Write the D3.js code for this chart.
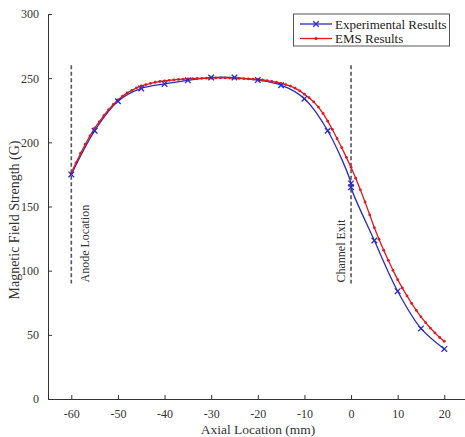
<!DOCTYPE html>
<html>
<head>
<meta charset="utf-8">
<script src="https://cdn.jsdelivr.net/npm/d3@7/dist/d3.min.js"></script>
<style>
  body { margin: 0; background: #fff; }
  svg { display: block; }
  svg text { font-family: "Liberation Serif", "Times New Roman", serif; }
</style>
</head>
<body>
<svg id="chart" width="465" height="437"></svg>
<script>
// experimental points (mm, G) - two readings at the exit
const expX = [-60, -55, -50, -45, -40, -35, -30, -25, -20, -15, -10, -5, 0, 0, 5, 10, 15, 20]
const expB = [175, 209, 232, 242, 245.5, 248.3, 250.5, 250.5, 248.5, 244.5, 234, 209, 168, 165, 123.5, 84, 55, 39]

// EMS simulation, 1 mm grid
const emsX = [-60, -59, -58, -57, -56, -55, -54, -53, -52, -51, -50, -49, -48, -47, -46, -45, -44, -43, -42, -41,
  -40, -39, -38, -37, -36, -35, -34, -33, -32, -31, -30, -29, -28, -27, -26, -25, -24, -23, -22, -21,
  -20, -19, -18, -17, -16, -15, -14, -13, -12, -11, -10, -9, -8, -7, -6, -5, -4, -3, -2, -1,
  0, 1, 2, 3, 4, 5, 6, 7, 8, 9, 10, 11, 12, 13, 14, 15, 16, 17, 18, 19, 20]
const emsB = [176, 184, 191.5, 198.5, 205, 211, 216, 221, 225.5, 229.5, 233, 236, 238.5, 240.5, 242.5, 244, 245, 246, 246.8, 247.4,
  247.9, 248.3, 248.7, 249, 249.2, 249.4, 249.6, 249.8, 249.9, 250, 250.1, 250.2, 250.2, 250.2, 250.1, 250, 249.8, 249.6, 249.4, 249.2,
  249, 248.6, 248.1, 247.5, 246.8, 246, 245, 243.8, 242.2, 240.1, 237.5, 234.8, 231.5, 227.5, 222.5, 216.5, 210, 203, 195.8, 188.3,
  180.5, 172, 163, 153.5, 143.5, 133.5, 124.5, 116, 108, 100.3, 93, 86.5, 80.3, 74.5, 69, 64, 59.5, 55.3, 51.5, 48, 45]

const xTicks = [-60, -50, -40, -30, -20, -10, 0, 10, 20]
const yTicks = [0, 50, 100, 150, 200, 250, 300]

// vertical markers: [x, label, side of the line the label sits on]
const markers = [[-60, 'Anode Location', 1], [0, 'Channel Exit', -1]]
const markerRange = [90, 260]

const seriesNames = ['Experimental Results', 'EMS Results']

const blue = '#2a2ac4'
const red = '#e3161c'

const svg = d3.select('#chart')

const x = d3.scaleLinear().domain([-65, 25]).range([48, 467.6])
const y = d3.scaleLinear().domain([0, 300]).range([399, 14])

const styleAxis = (g) => {
  g.attr('font-family', null).attr('font-size', null)
  g.select('.domain').attr('stroke', '#333')
  g.selectAll('.tick line').attr('stroke', '#333')
  g.selectAll('.tick text').attr('font-size', 12).attr('fill', '#333')
}

// axes, MATLAB style ticks pointing inward; plain hyphen for negatives
svg.append('g')
  .attr('transform', `translate(0, ${y(0)})`)
  .call(d3.axisBottom(x).tickValues(xTicks).tickFormat(String)
    .tickSizeInner(-4).tickSizeOuter(0).tickPadding(10))
  .call(styleAxis)

svg.append('g')
  .attr('transform', `translate(${x(-65)}, 0)`)
  .call(d3.axisLeft(y).tickValues(yTicks).tickFormat(String)
    .tickSizeInner(-4).tickSizeOuter(0).tickPadding(9))
  .call(styleAxis)

svg.append('text')
  .attr('x', 258)
  .attr('y', 434)
  .attr('text-anchor', 'middle')
  .attr('font-size', 13.5)
  .attr('fill', '#333')
  .text('Axial Location (mm)')

svg.append('text')
  .attr('transform', `translate(19, 220) rotate(-90)`)
  .attr('text-anchor', 'middle')
  .attr('font-size', 14)
  .attr('fill', '#333')
  .text('Magnetic Field Strength (G)')

// dashed reference lines + labels
markers.forEach(([mx, label, side]) => {
  svg.append('line')
    .attr('x1', x(mx)).attr('x2', x(mx))
    .attr('y1', y(markerRange[1])).attr('y2', y(markerRange[0]))
    .attr('stroke', '#555')
    .attr('stroke-width', 1.6)
    .attr('stroke-dasharray', '4,2.5')
  const tx = side > 0 ? x(mx) + 18 : x(mx) - 6
  svg.append('text')
    .attr('transform', `translate(${tx}, ${y(markerRange[0]) - 1}) rotate(-90)`)
    .attr('text-anchor', 'start')
    .attr('font-size', 12)
    .attr('fill', '#333')
    .text(label)
})

const expData = expX.map((d, i) => [d, expB[i]])
const emsData = emsX.map((d, i) => [d, emsB[i]])

const line = d3.line()
  .x(d => x(d[0]))
  .y(d => y(d[1]))

svg.append('path')
  .datum(expData)
  .attr('fill', 'none')
  .attr('stroke', blue)
  .attr('stroke-width', 1.3)
  .attr('d', line.curve(d3.curveCatmullRom.alpha(0.5)))

svg.append('path')
  .datum(emsData)
  .attr('fill', 'none')
  .attr('stroke', red)
  .attr('stroke-width', 1.3)
  .attr('d', line.curve(d3.curveLinear))

svg.append('g').selectAll('circle')
  .data(emsData)
  .enter()
  .append('circle')
  .attr('cx', d => x(d[0]))
  .attr('cy', d => y(d[1]))
  .attr('r', 1.4)
  .attr('fill', red)

const cross = (g, cx, cy, s) => {
  g.append('path')
    .attr('d', `M${cx - s},${cy - s}L${cx + s},${cy + s}M${cx - s},${cy + s}L${cx + s},${cy - s}`)
    .attr('stroke', blue)
    .attr('stroke-width', 1.3)
    .attr('fill', 'none')
}

const expMarks = svg.append('g')
expData.forEach(d => cross(expMarks, x(d[0]), y(d[1]), 2.8))

// legend
const legend = svg.append('g')
legend.append('rect')
  .attr('x', 293.5).attr('y', 14)
  .attr('width', 156).attr('height', 32)
  .attr('fill', '#fff')
  .attr('stroke', '#555')
  .attr('stroke-width', 1)

legend.append('line')
  .attr('x1', 300).attr('x2', 332).attr('y1', 24).attr('y2', 24)
  .attr('stroke', blue).attr('stroke-width', 1.3)
cross(legend, 316, 24, 2.8)
legend.append('line')
  .attr('x1', 300).attr('x2', 332).attr('y1', 38.5).attr('y2', 38.5)
  .attr('stroke', red).attr('stroke-width', 1.3)
legend.append('circle')
  .attr('cx', 316).attr('cy', 38.5).attr('r', 1.6).attr('fill', red)

seriesNames.forEach((name, i) => {
  legend.append('text')
    .attr('x', 335)
    .attr('y', 28.5 + i * 14.5)
    .attr('font-size', 13)
    .attr('fill', '#222')
    .text(name)
})
</script>
</body>
</html>
